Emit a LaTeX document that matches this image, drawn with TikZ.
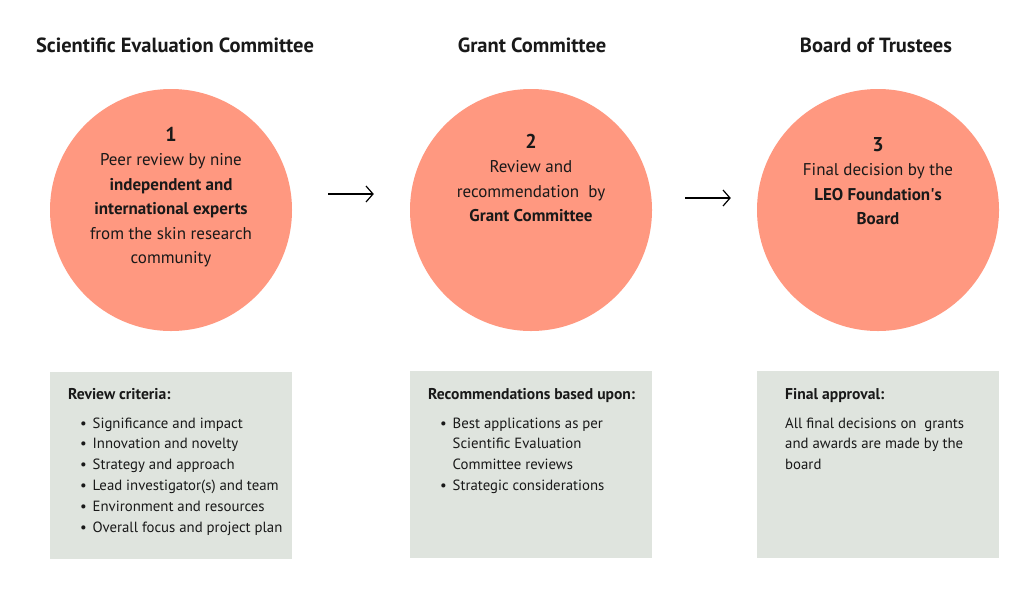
\documentclass[tikz,border=0pt]{standalone}
\usepackage{fontspec}
\setmainfont{PT Sans}
\usetikzlibrary{positioning,arrows.meta}
\definecolor{Salmon}{RGB}{255,152,128}
\definecolor{SageGrey}{RGB}{223,228,222}
\definecolor{Ink}{RGB}{25,25,25}
\newcommand{\bul}{\hspace*{12pt}\makebox[12.5pt][l]{\textbullet}}
\newcommand{\cont}{\hspace*{24.5pt}}

\begin{document}
\begin{tikzpicture}[
    x=1pt, y=-1pt,
    text=Ink,
    stage/.style={circle, fill=Salmon, minimum size=242pt, inner sep=0pt},
    heading/.style={font=\fontsize{20.5}{22}\selectfont\bfseries},
    ctext/.style={align=center, inner sep=0pt, font=\fontsize{17}{24.5}\selectfont},
    panel/.style={fill=SageGrey, anchor=north west, minimum width=242pt, minimum height=187pt, inner sep=0pt},
    ptext/.style={anchor=north west, align=left, inner sep=0pt, font=\fontsize{14.8}{20.8}\selectfont},
    flow/.style={-{Straight Barb[length=7pt,width=16pt]}, line width=1.2pt},
]
    \useasboundingbox (0,0) rectangle (1024,600);
    \fill[white] (0,0) rectangle (1024,600);

    % Headings
    \node[heading] (h1) at (175,45) {Scientific Evaluation Committee};
    \node[heading] (h2) at (532,45) {Grant Committee};
    \node[heading] (h3) at (876,45) {Board of Trustees};

    % Stage circles
    \node[stage] (c1) at (171,210) {};
    \node[stage] (c2) at (531,210) {};
    \node[stage] (c3) at (878,210) {};

    % Circle texts
    \node[ctext] (t1) at (171,197) {\textbf{\fontsize{20}{24.5}\selectfont 1}\\Peer review by nine\\\textbf{independent and}\\\textbf{international experts}\\from the skin research\\community};
    \node[ctext] (t2) at (531,178) {\textbf{\fontsize{20}{24.5}\selectfont 2}\\Review and\\recommendation\ \ by\\\textbf{Grant Committee}};
    \node[ctext] (t3) at (878,181) {\textbf{\fontsize{20}{24.5}\selectfont 3}\\Final decision by the\\\textbf{LEO Foundation\textquotesingle s}\\\textbf{Board}};

    % Arrows between stages
    \draw[flow, shorten <=36pt, shorten >=36pt] ([yshift=16pt]c1.east) -- ([yshift=16pt]c2.west);
    \draw[flow, shorten <=33pt, shorten >=26pt] ([yshift=12pt]c2.east) -- ([yshift=12pt]c3.west);

    % Panels
    \node[panel] (p1) at (50,372) {};
    \node[panel] (p2) at (410,371) {};
    \node[panel] (p3) at (757,371) {};

    % Panel texts
    \node[ptext] (l1) at (68,388) {\textbf{\fontsize{15.6}{20.8}\selectfont Review criteria:}\\[8pt]
        \bul Significance and impact\\
        \bul Innovation and novelty\\
        \bul Strategy and approach\\
        \bul Lead investigator(s) and team\\
        \bul Environment and resources\\
        \bul Overall focus and project plan};
    \node[ptext] (l2) at (428,388) {\textbf{\fontsize{15.6}{20.8}\selectfont Recommendations based upon:}\\[8pt]
        \bul Best applications as per\\
        \cont Scientific Evaluation\\
        \cont Committee reviews\\
        \bul Strategic considerations};
    \node[ptext] (l3) at (785,388) {\textbf{\fontsize{15.6}{20.8}\selectfont Final approval:}\\[8pt]
        All final decisions on\ \ grants\\
        and awards are made by the\\
        board};
\end{tikzpicture}
\end{document}
